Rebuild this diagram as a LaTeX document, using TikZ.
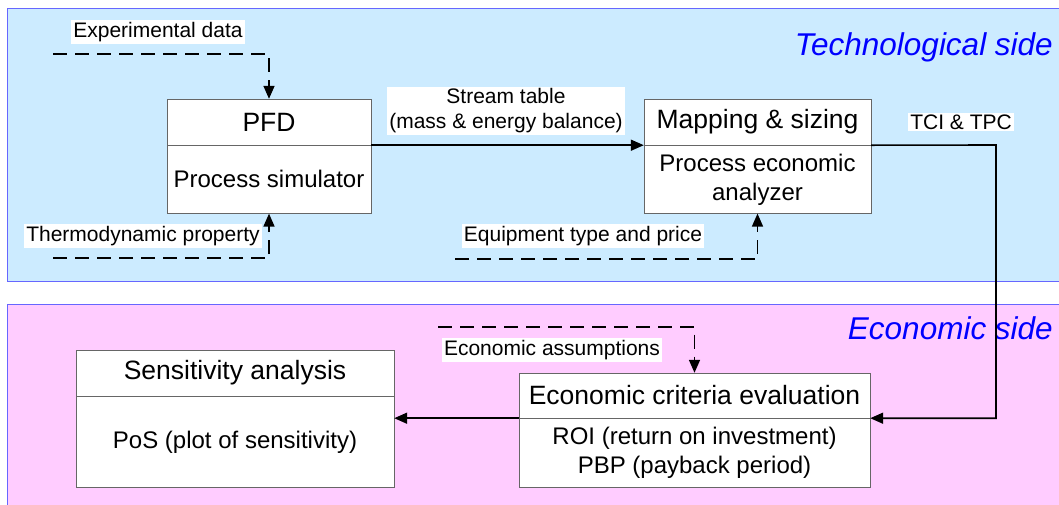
\documentclass[tikz,border=0pt]{standalone}
\usepackage{fontspec}
\setmainfont{Liberation Sans}
\usetikzlibrary{positioning,arrows.meta}
\definecolor{techside}{HTML}{CCEBFF}
\definecolor{econside}{HTML}{FFCCFF}
\definecolor{sideframe}{HTML}{6666FF}
\definecolor{boxframe}{HTML}{666666}

\begin{document}
\begin{tikzpicture}[x=1pt, y=-1pt,
    hdr/.style={draw=boxframe, fill=white, minimum height=46pt, inner sep=0pt, font=\fontsize{26.5}{30}\selectfont},
    body/.style={draw=boxframe, fill=white, inner sep=0pt, align=center, font=\fontsize{24}{29}\selectfont},
    lbl/.style={fill=white, inner sep=2pt, align=center, font=\fontsize{21}{25}\selectfont},
    side/.style={anchor=east, inner sep=0pt, text=blue, font=\fontsize{31.5}{36}\selectfont\itshape},
    flow/.style={-{Triangle[length=13pt,width=11pt]}, line width=1.6pt},
    feed/.style={flow, dash pattern=on 14pt off 8pt}
  ]
  \useasboundingbox (0,0) rectangle (1059,504);
  % Regions
  \filldraw[fill=techside, draw=sideframe] (7,8) rectangle (1070,281);
  \filldraw[fill=econside, draw=sideframe] (7,304) rectangle (1070,520);
  \node[side] (techlbl) at (1053,47) {Technological side};
  \node[side] (econlbl) at (1053,328) {Economic side};

  % Technological side
  \node[hdr, minimum width=204pt] (pfd) at (269,122) {PFD};
  \node[body, minimum width=204pt, minimum height=68pt, below=0pt of pfd] (pfdbody) {Process simulator};
  \node[hdr, minimum width=227pt] (map) at (757.5,122) {Mapping \& sizing};
  \node[body, minimum width=227pt, minimum height=68pt, below=0pt of map] (mapbody) {Process economic\\analyzer};

  % Economic side
  \node[hdr, minimum width=351pt, minimum height=45pt] (econ) at (694.5,395.5) {Economic criteria evaluation};
  \node[body, minimum width=351pt, minimum height=69pt, below=0pt of econ] (econbody) {ROI (return on investment)\\PBP (payback period)};
  \node[hdr, minimum width=318pt] (sens) at (235,373) {Sensitivity analysis};
  \node[body, minimum width=318pt, minimum height=91pt, below=0pt of sens] (sensbody) {PoS (plot of sensitivity)};

  % Inputs
  \coordinate (expin) at (53,54);
  \coordinate (thermin) at (53,258);
  \coordinate (equipin) at (455,259);
  \coordinate (assumin) at (438,327);
  \coordinate (tcibend) at (996,145);
  \draw[feed] (expin) -| (pfd.north);
  \draw[feed] (thermin) -| (pfdbody.south);
  \draw[feed] (equipin) -| (mapbody.south);
  \draw[feed] (assumin) -| (econ.north);
  \node[lbl] (explbl) at (158,32) {Experimental data};
  \node[lbl] (thermlbl) at (143,236) {Thermodynamic property};
  \node[lbl] (equiplbl) at (583,236) {Equipment type and price};
  \node[lbl] (assumlbl) at (552,350) {Economic assumptions};

  % Flows
  \draw[flow] (pfd.south east) -- (map.south west);
  \node[lbl] (streamlbl) at (506,111) {Stream table\\(mass \& energy balance)};
  \draw[flow] (map.south east) -- (tcibend) |- (econ.south east);
  \node[lbl] (tcilbl) at (961,122) {TCI \& TPC};
  \draw[flow] (econ.south west) -- (econ.south west -| sensbody.east);
\end{tikzpicture}
\end{document}
